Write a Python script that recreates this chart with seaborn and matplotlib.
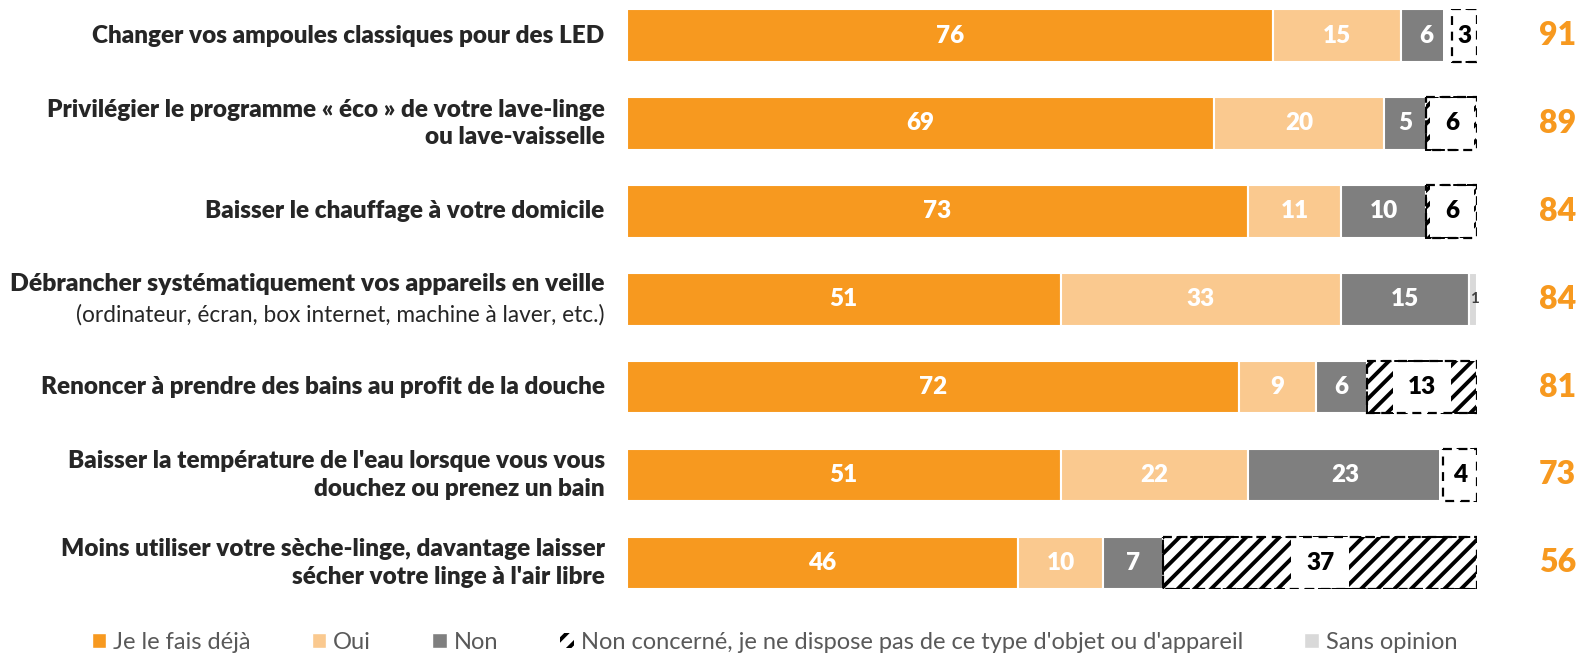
import matplotlib
matplotlib.use('Agg')
import matplotlib.pyplot as plt
import pandas as pd
import seaborn as sns
from matplotlib.patches import Patch, Rectangle

# Data
labels = [
    'Changer vos ampoules classiques pour des LED',
    'Privilégier le programme « éco » de votre lave-linge\nou lave-vaisselle',
    'Baisser le chauffage à votre domicile',
    'Débrancher systématiquement vos appareils en veille',
    'Renoncer à prendre des bains au profit de la douche',
    "Baisser la température de l'eau lorsque vous vous\ndouchez ou prenez un bain",
    'Moins utiliser votre sèche-linge, davantage laisser\nsécher votre linge à l\'air libre',
]
sublabel = '(ordinateur, écran, box internet, machine à laver, etc.)'
deja = [76, 69, 73, 51, 72, 51, 46]
oui = [15, 20, 11, 33, 9, 22, 10]
non = [6, 5, 10, 15, 6, 23, 7]
non_concerne = [3, 6, 6, 0, 13, 4, 37]
sans_opinion = [0, 0, 0, 1, 0, 0, 0]
totals = [91, 89, 84, 84, 81, 73, 56]

series = ['Je le fais déjà', 'Oui', 'Non',
          "Non concerné, je ne dispose pas de ce type d'objet ou d'appareil",
          'Sans opinion']
colors = ['#F7991F', '#FAC98F', '#7F7F7F', '#FFFFFF', '#D9D9D9']
orange = '#F7991F'

df = pd.DataFrame({'row': [f'r{i}' for i in range(len(labels))],
                   's0': deja, 's1': oui, 's2': non,
                   's3': non_concerne, 's4': sans_opinion})

sns.set_style('white')
plt.rcParams['font.family'] = ['Lato', 'DejaVu Sans']
plt.rcParams['hatch.linewidth'] = 2.8

fig = plt.figure(figsize=(15.87, 6.54), dpi=100)
ax = fig.add_axes([0.395, 0.099, 0.536, 0.887])

left = [0] * len(df)
seg_patches = []
for k, key in enumerate(['s0', 's1', 's2', 's3', 's4']):
    kws = dict(color=colors[k], edgecolor='white', linewidth=1.5)
    if k == 3:
        kws = dict(color='white', edgecolor='black', linewidth=1.4,
                   linestyle=(0, (4, 3)), hatch='//')
    n_before = len(ax.patches)
    sns.barplot(data=df, x=key, y='row', orient='h', width=0.6,
                saturation=1, left=left, ax=ax, **kws)
    seg_patches.append(ax.patches[n_before:])
    left = [a + b for a, b in zip(left, df[key])]

# value labels
for k, key in enumerate(['s0', 's1', 's2', 's3', 's4']):
    for i, p in enumerate(seg_patches[k]):
        v = df[key].iloc[i]
        if v == 0:
            continue
        cx = p.get_x() + p.get_width() / 2
        cy = p.get_y() + p.get_height() / 2
        if k < 3:
            ax.text(cx, cy, str(v), ha='center', va='center', color='white',
                    fontsize=17.5, fontweight='heavy')
        elif k == 3:
            t = ax.text(cx, cy, str(v), ha='center', va='center', color='black',
                        fontsize=17.5, fontweight='heavy',
                        bbox=dict(boxstyle='square,pad=0.6', facecolor='white',
                                  edgecolor='none'))
            t.set_clip_path(p)
            ax.add_patch(Rectangle((p.get_x(), p.get_y()), p.get_width(),
                                   p.get_height(), fill=False, edgecolor='black',
                                   linewidth=1.6, linestyle=(0, (4, 3)), zorder=4))
        else:
            ax.text(cx + 0.2, cy, str(v), ha='center', va='center',
                    color='#404040', fontsize=11, fontweight='bold')

# category labels and totals
for i, lab in enumerate(labels):
    if i == 3:
        ax.text(-2.6, i - 0.17, lab, ha='right', va='center', fontsize=17.8,
                fontweight='heavy', clip_on=False)
        ax.text(-2.6, i + 0.18, sublabel, ha='right', va='center',
                fontsize=16.3, clip_on=False)
    else:
        ax.text(-2.6, i, lab, ha='right', va='center', fontsize=17.5,
                fontweight='heavy', linespacing=1.3, clip_on=False)
    ax.text(109.4, i, str(totals[i]), ha='center', va='center', color=orange,
            fontsize=23, fontweight='heavy', clip_on=False)

ax.set_xlim(0, 100)
ax.set_ylim(6.3, -0.3)
ax.set_xlabel('')
ax.set_ylabel('')
ax.set_xticks([])
ax.set_yticks([])
sns.despine(ax=ax, left=True, bottom=True)

handles = [Patch(facecolor=colors[0], label=series[0]),
           Patch(facecolor=colors[1], label=series[1]),
           Patch(facecolor=colors[2], label=series[2]),
           Patch(facecolor='white', edgecolor='black', hatch='//',
                 linewidth=0, label=series[3]),
           Patch(facecolor=colors[4], label=series[4])]
fig.legend(handles=handles, loc='center', bbox_to_anchor=(0.488, 0.018),
           ncol=5, frameon=False, fontsize=17, labelcolor='#595959',
           handlelength=0.6, handleheight=0.6, handletextpad=0.3,
           columnspacing=2.6)

fig.savefig('out.png', dpi=100)
